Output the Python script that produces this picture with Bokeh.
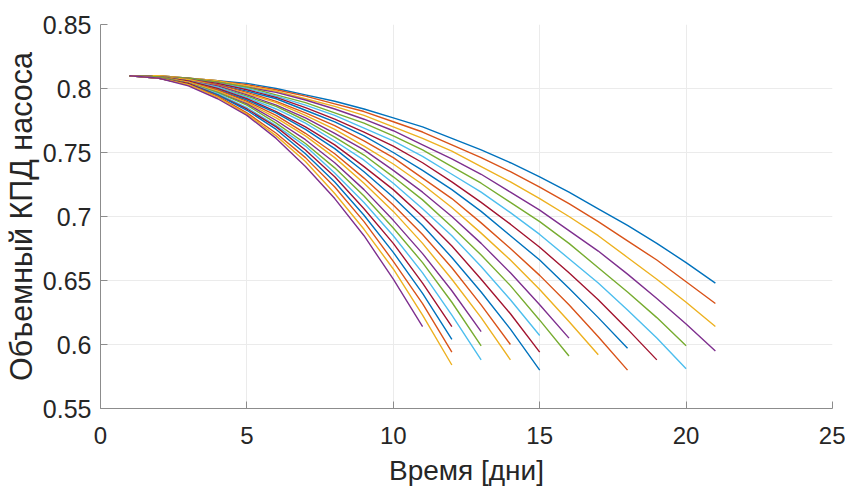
from bokeh.plotting import figure
from bokeh.models import Range1d, FixedTicker, CustomJSTickFormatter
from bokeh.embed import file_html
from bokeh.resources import INLINE

# Volumetric efficiency curves (time in days, t = 1..N)
y01 = [0.810, 0.810, 0.808, 0.806, 0.804, 0.800, 0.795, 0.790, 0.784, 0.777, 0.770, 0.761, 0.752, 0.742, 0.731, 0.719, 0.706, 0.693, 0.679, 0.664, 0.648]
y02 = [0.810, 0.810, 0.808, 0.806, 0.803, 0.799, 0.794, 0.788, 0.782, 0.774, 0.766, 0.756, 0.746, 0.735, 0.723, 0.710, 0.696, 0.681, 0.666, 0.649, 0.632]
y03 = [0.810, 0.810, 0.808, 0.806, 0.802, 0.798, 0.792, 0.786, 0.779, 0.770, 0.761, 0.751, 0.739, 0.727, 0.714, 0.700, 0.685, 0.668, 0.651, 0.633, 0.614]
y04 = [0.810, 0.809, 0.808, 0.805, 0.801, 0.797, 0.791, 0.784, 0.776, 0.767, 0.756, 0.745, 0.733, 0.719, 0.705, 0.689, 0.673, 0.655, 0.636, 0.616, 0.595]
y05 = [0.810, 0.809, 0.808, 0.805, 0.801, 0.795, 0.789, 0.781, 0.773, 0.763, 0.752, 0.739, 0.726, 0.711, 0.696, 0.679, 0.660, 0.641, 0.621, 0.599]
y06 = [0.810, 0.809, 0.807, 0.804, 0.800, 0.794, 0.787, 0.779, 0.769, 0.759, 0.747, 0.733, 0.719, 0.703, 0.686, 0.667, 0.648, 0.627, 0.605, 0.581]
y07 = [0.810, 0.809, 0.807, 0.804, 0.799, 0.793, 0.785, 0.776, 0.766, 0.755, 0.742, 0.727, 0.711, 0.694, 0.676, 0.656, 0.635, 0.612, 0.588]
y08 = [0.810, 0.809, 0.807, 0.803, 0.798, 0.792, 0.783, 0.774, 0.763, 0.750, 0.736, 0.721, 0.704, 0.685, 0.666, 0.644, 0.621, 0.597]
y09 = [0.810, 0.809, 0.807, 0.803, 0.797, 0.790, 0.781, 0.771, 0.759, 0.746, 0.730, 0.714, 0.695, 0.675, 0.654, 0.631, 0.606, 0.580]
y10 = [0.810, 0.809, 0.807, 0.802, 0.796, 0.789, 0.779, 0.768, 0.755, 0.741, 0.725, 0.707, 0.687, 0.666, 0.643, 0.618, 0.592]
y11 = [0.810, 0.809, 0.806, 0.802, 0.795, 0.787, 0.777, 0.765, 0.752, 0.736, 0.719, 0.700, 0.679, 0.656, 0.631, 0.605]
y12 = [0.810, 0.809, 0.806, 0.801, 0.794, 0.786, 0.775, 0.762, 0.748, 0.731, 0.713, 0.692, 0.670, 0.646, 0.619, 0.591]
y13 = [0.810, 0.809, 0.806, 0.801, 0.793, 0.784, 0.773, 0.759, 0.744, 0.726, 0.706, 0.685, 0.661, 0.635, 0.607]
y14 = [0.810, 0.809, 0.806, 0.800, 0.792, 0.782, 0.770, 0.756, 0.739, 0.721, 0.700, 0.677, 0.651, 0.624, 0.594]
y15 = [0.810, 0.809, 0.805, 0.799, 0.791, 0.781, 0.768, 0.753, 0.735, 0.715, 0.693, 0.668, 0.641, 0.612, 0.580]
y16 = [0.810, 0.809, 0.805, 0.799, 0.790, 0.779, 0.765, 0.749, 0.730, 0.709, 0.686, 0.660, 0.631, 0.600]
y17 = [0.810, 0.809, 0.805, 0.798, 0.789, 0.777, 0.763, 0.746, 0.726, 0.704, 0.679, 0.651, 0.621, 0.588]
y18 = [0.810, 0.809, 0.804, 0.797, 0.788, 0.775, 0.760, 0.742, 0.721, 0.697, 0.671, 0.642, 0.610]
y19 = [0.810, 0.809, 0.804, 0.797, 0.787, 0.773, 0.757, 0.738, 0.716, 0.691, 0.664, 0.633, 0.599]
y20 = [0.810, 0.808, 0.804, 0.796, 0.785, 0.771, 0.755, 0.734, 0.711, 0.685, 0.656, 0.623, 0.588]
y21 = [0.810, 0.808, 0.804, 0.795, 0.784, 0.770, 0.752, 0.731, 0.706, 0.679, 0.648, 0.614]
y22 = [0.810, 0.808, 0.803, 0.795, 0.783, 0.768, 0.749, 0.727, 0.701, 0.672, 0.640, 0.604]
y23 = [0.810, 0.808, 0.803, 0.794, 0.781, 0.765, 0.746, 0.723, 0.696, 0.665, 0.632, 0.594]
y24 = [0.810, 0.808, 0.803, 0.793, 0.780, 0.763, 0.743, 0.718, 0.690, 0.659, 0.623, 0.584]
y25 = [0.810, 0.808, 0.802, 0.792, 0.779, 0.761, 0.739, 0.714, 0.685, 0.651, 0.614]

series = [y01, y02, y03, y04, y05, y06, y07, y08, y09, y10, y11, y12, y13,
          y14, y15, y16, y17, y18, y19, y20, y21, y22, y23, y24, y25]

x_ticks = [0, 5, 10, 15, 20, 25]
y_ticks = [0.55, 0.6, 0.65, 0.7, 0.75, 0.8, 0.85]
x_label = "Время [дни]"
y_label = "Объемный КПД насоса"

palette = ["#0072BD", "#D95319", "#EDB120", "#7E2F8E", "#77AC30", "#4DBEEE", "#A2142F"]

FONT = "Liberation Sans"
AXIS_COLOR = "#8c8c8c"
TEXT_COLOR = "#262626"

p = figure(width=845, height=488, output_backend="svg", toolbar_location=None,
           x_range=Range1d(0, 25), y_range=Range1d(0.55, 0.85),
           min_border_left=100, min_border_right=13, min_border_top=24, min_border_bottom=79)

for i, ys in enumerate(series):
    ts = list(range(1, len(ys) + 1))
    p.line(ts, ys, line_color=palette[i % len(palette)], line_width=1.4)

p.outline_line_color = None
p.background_fill_color = "white"
p.border_fill_color = "white"

p.xaxis.ticker = FixedTicker(ticks=x_ticks)
p.yaxis.ticker = FixedTicker(ticks=y_ticks)
p.yaxis.formatter = CustomJSTickFormatter(code="return String(Math.round(tick*100)/100);")

for ax in (p.xaxis, p.yaxis):
    ax.axis_line_color = AXIS_COLOR
    ax.major_tick_line_color = AXIS_COLOR
    ax.major_tick_in = 7
    ax.major_tick_out = 0
    ax.minor_tick_line_color = None
    ax.major_label_text_font = FONT
    ax.major_label_text_color = TEXT_COLOR
    ax.axis_label_text_font = FONT
    ax.axis_label_text_font_style = "normal"
    ax.axis_label_text_color = TEXT_COLOR

p.xaxis.major_label_text_font_size = "24px"
p.yaxis.major_label_text_font_size = "25px"
p.xaxis.axis_label_text_font_size = "28px"
p.yaxis.axis_label_text_font_size = "30.5px"

p.xaxis.axis_label = x_label
p.yaxis.axis_label = y_label
p.xaxis.major_label_standoff = 18
p.yaxis.major_label_standoff = 9
p.xaxis.axis_label_standoff = 8
p.yaxis.axis_label_standoff = 2

p.xgrid.ticker = FixedTicker(ticks=x_ticks)
p.ygrid.ticker = FixedTicker(ticks=y_ticks)
for g in (p.xgrid, p.ygrid):
    g.grid_line_color = "#ebebeb"
    g.grid_line_width = 1

open("out.html", "w").write(file_html(p, INLINE))
